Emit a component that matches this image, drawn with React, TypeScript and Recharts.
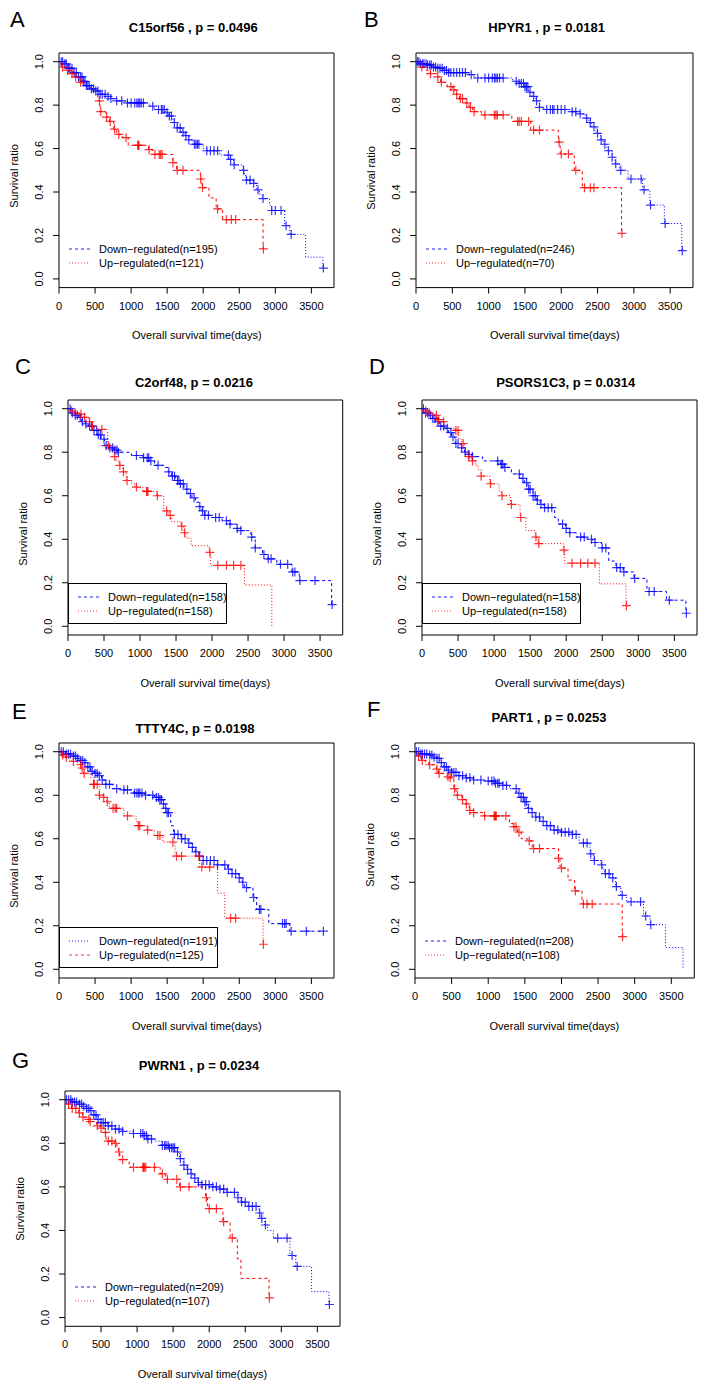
import React from 'react'
import { ComposedChart, Line, Scatter, XAxis, YAxis, ReferenceArea } from 'recharts'

const FONT = '"Liberation Sans", Arial, Helvetica, sans-serif'
const BLUE = '#0000ff'
const RED = '#ff0000'
const LEG_BLUE = '#6a6aff'
const LEG_RED = '#ff7a7a'
const DASH = '3 3'
const DOT = '1 2'

const X_TICKS = [0, 500, 1000, 1500, 2000, 2500, 3000, 3500]
const Y_TICKS = [0, 0.2, 0.4, 0.6, 0.8, 1]
const X_MAX = 3814
const Y_MIN = -0.04
const Y_MAX = 1.04
const X_TITLE = 'Overall survival time(days)'
const Y_TITLE = 'Survival ratio'

const LETTERS = ['A', 'B', 'C', 'D', 'E', 'F', 'G']
const TITLES = [
  'C15orf56 , p = 0.0496',
  'HPYR1 , p = 0.0181',
  'C2orf48, p = 0.0216',
  'PSORS1C3, p = 0.0314',
  'TTTY4C, p = 0.0198',
  'PART1 , p = 0.0253',
  'PWRN1 , p = 0.0234',
]
const N_DOWN = [195, 246, 158, 158, 191, 208, 209]
const N_UP = [121, 70, 158, 158, 125, 108, 107]

// step curves: [day, survival after the drop]; censor marks: day only (sit on the curve)

// A: C15orf56
const aDownSteps = [[60, 0.99], [120, 0.97], [200, 0.95], [260, 0.93], [330, 0.91], [380, 0.89], [440, 0.875], [500, 0.865], [570, 0.85], [650, 0.84], [720, 0.83], [800, 0.82], [950, 0.81], [1250, 0.795], [1320, 0.78], [1480, 0.765], [1520, 0.75], [1580, 0.72], [1640, 0.695], [1700, 0.675], [1750, 0.66], [1800, 0.64], [1860, 0.62], [2000, 0.6], [2050, 0.59], [2230, 0.57], [2370, 0.55], [2420, 0.525], [2550, 0.5], [2570, 0.475], [2600, 0.455], [2700, 0.44], [2740, 0.41], [2780, 0.39], [2820, 0.37], [2920, 0.34], [2950, 0.315], [3130, 0.245], [3200, 0.205], [3420, 0.1], [3660, 0.05]]
const aDownCensor = [30, 50, 80, 100, 130, 150, 180, 210, 240, 270, 300, 320, 340, 360, 380, 400, 420, 450, 480, 510, 540, 570, 600, 640, 680, 720, 800, 870, 950, 1000, 1050, 1080, 1100, 1120, 1140, 1170, 1300, 1380, 1420, 1440, 1460, 1500, 1530, 1560, 1600, 1640, 1680, 1720, 1760, 1800, 1880, 1900, 1920, 1940, 2050, 2100, 2150, 2200, 2350, 2380, 2430, 2560, 2600, 2650, 2700, 2760, 2830, 2950, 3000, 3080, 3150, 3220, 3667]
const aUpSteps = [[40, 0.975], [100, 0.96], [150, 0.945], [200, 0.93], [280, 0.905], [320, 0.89], [450, 0.87], [540, 0.82], [570, 0.77], [650, 0.745], [700, 0.725], [760, 0.69], [800, 0.665], [880, 0.65], [960, 0.615], [1240, 0.595], [1300, 0.573], [1580, 0.535], [1630, 0.5], [1960, 0.46], [1985, 0.42], [2080, 0.373], [2180, 0.322], [2270, 0.273], [2830, 0.138]]
const aUpCensor = [50, 120, 180, 230, 300, 560, 580, 660, 710, 770, 830, 930, 1090, 1100, 1110, 1250, 1330, 1390, 1410, 1430, 1580, 1640, 1720, 1965, 1990, 2200, 2320, 2390, 2450, 2835]

// B: HPYR1
const bDownSteps = [[60, 0.99], [150, 0.985], [220, 0.975], [300, 0.97], [380, 0.96], [450, 0.95], [720, 0.94], [800, 0.925], [1330, 0.91], [1420, 0.9], [1500, 0.885], [1550, 0.86], [1600, 0.84], [1650, 0.82], [1700, 0.79], [1760, 0.78], [2150, 0.77], [2250, 0.76], [2330, 0.74], [2380, 0.72], [2420, 0.7], [2480, 0.67], [2540, 0.64], [2580, 0.62], [2630, 0.59], [2700, 0.56], [2740, 0.53], [2800, 0.5], [2920, 0.46], [3120, 0.41], [3220, 0.34], [3420, 0.255], [3660, 0.13]]
const bDownCensor = [20, 40, 60, 90, 110, 140, 160, 190, 210, 240, 270, 300, 330, 360, 390, 420, 450, 480, 520, 560, 600, 640, 680, 760, 850, 950, 1000, 1050, 1080, 1100, 1120, 1150, 1200, 1380, 1420, 1450, 1480, 1500, 1520, 1540, 1570, 1620, 1660, 1700, 1800, 1850, 1880, 1900, 1950, 2000, 2050, 2150, 2200, 2260, 2350, 2400, 2450, 2500, 2550, 2600, 2650, 2700, 2750, 2820, 2960, 3100, 3140, 3230, 3430, 3667]
const bUpSteps = [[70, 0.975], [140, 0.96], [200, 0.945], [290, 0.93], [340, 0.905], [430, 0.885], [500, 0.87], [550, 0.85], [600, 0.83], [680, 0.81], [730, 0.79], [780, 0.77], [900, 0.755], [1320, 0.725], [1580, 0.685], [1960, 0.63], [1985, 0.575], [2180, 0.5], [2290, 0.42], [2830, 0.21]]
const bUpCensor = [80, 200, 300, 350, 480, 520, 560, 610, 640, 700, 750, 800, 950, 1080, 1100, 1120, 1200, 1400, 1420, 1450, 1550, 1620, 1700, 1970, 2000, 2100, 2200, 2320, 2400, 2450, 2835]

// C: C2orf48
const cDownSteps = [[40, 0.98], [100, 0.97], [150, 0.96], [190, 0.94], [240, 0.93], [290, 0.92], [360, 0.9], [410, 0.88], [460, 0.86], [510, 0.83], [580, 0.82], [640, 0.81], [690, 0.8], [880, 0.785], [1040, 0.775], [1130, 0.76], [1200, 0.74], [1330, 0.73], [1390, 0.71], [1440, 0.69], [1490, 0.67], [1560, 0.655], [1610, 0.63], [1670, 0.61], [1720, 0.59], [1770, 0.57], [1820, 0.55], [1860, 0.53], [1900, 0.51], [1990, 0.5], [2140, 0.485], [2240, 0.47], [2340, 0.45], [2400, 0.44], [2540, 0.41], [2600, 0.36], [2700, 0.33], [2780, 0.31], [2900, 0.285], [3110, 0.25], [3210, 0.21], [3660, 0.1]]
const cDownCensor = [30, 60, 100, 130, 170, 200, 250, 300, 330, 360, 400, 420, 450, 500, 530, 580, 620, 650, 680, 700, 950, 1050, 1100, 1120, 1150, 1250, 1400, 1450, 1480, 1520, 1540, 1560, 1600, 1650, 1700, 1750, 1830, 1870, 1900, 1950, 2050, 2100, 2200, 2250, 2350, 2400, 2550, 2600, 2720, 2780, 2820, 2950, 3050, 3120, 3150, 3220, 3430, 3667]
const cUpSteps = [[30, 0.99], [100, 0.98], [180, 0.975], [230, 0.96], [290, 0.94], [330, 0.92], [400, 0.905], [550, 0.83], [610, 0.8], [640, 0.78], [670, 0.76], [710, 0.74], [760, 0.71], [810, 0.67], [880, 0.655], [930, 0.64], [1040, 0.62], [1230, 0.6], [1330, 0.53], [1390, 0.51], [1440, 0.48], [1570, 0.46], [1610, 0.43], [1640, 0.405], [1710, 0.37], [1960, 0.34], [1980, 0.28], [2450, 0.19], [2830, 0]]
const cUpCensor = [50, 100, 180, 230, 300, 340, 470, 560, 650, 720, 770, 820, 950, 1090, 1100, 1110, 1240, 1370, 1420, 1580, 1620, 1970, 2080, 2200, 2300, 2400]

// D: PSORS1C3
const dDownSteps = [[40, 0.98], [90, 0.97], [150, 0.955], [190, 0.94], [240, 0.92], [320, 0.91], [370, 0.89], [410, 0.87], [460, 0.84], [530, 0.82], [590, 0.8], [640, 0.79], [690, 0.78], [840, 0.76], [1090, 0.745], [1140, 0.73], [1240, 0.7], [1370, 0.68], [1420, 0.66], [1470, 0.63], [1540, 0.6], [1590, 0.58], [1640, 0.56], [1690, 0.545], [1840, 0.5], [1890, 0.47], [1990, 0.45], [2040, 0.43], [2140, 0.41], [2290, 0.4], [2370, 0.385], [2490, 0.36], [2590, 0.3], [2690, 0.27], [2790, 0.25], [2940, 0.22], [3120, 0.16], [3390, 0.12], [3660, 0.06]]
const dDownCensor = [20, 50, 80, 120, 150, 180, 220, 260, 300, 350, 400, 430, 470, 500, 550, 600, 650, 700, 1050, 1100, 1120, 1150, 1350, 1400, 1450, 1480, 1500, 1540, 1570, 1600, 1650, 1700, 1750, 1800, 1950, 2000, 2050, 2200, 2250, 2350, 2400, 2500, 2550, 2700, 2750, 2800, 2950, 3150, 3220, 3430, 3667]
const dUpSteps = [[40, 0.99], [100, 0.98], [170, 0.97], [220, 0.95], [290, 0.94], [320, 0.91], [460, 0.9], [510, 0.86], [550, 0.84], [590, 0.81], [640, 0.78], [690, 0.76], [740, 0.74], [780, 0.72], [820, 0.69], [940, 0.655], [1070, 0.62], [1100, 0.6], [1230, 0.56], [1360, 0.5], [1440, 0.44], [1570, 0.41], [1610, 0.38], [1960, 0.35], [1980, 0.29], [2460, 0.195], [2830, 0.095]]
const dUpCensor = [50, 100, 200, 230, 300, 470, 500, 570, 650, 700, 820, 950, 1110, 1240, 1370, 1580, 1620, 1970, 2080, 2200, 2300, 2400, 2835]

// E: TTTY4C
const eDownSteps = [[90, 0.99], [190, 0.98], [240, 0.97], [290, 0.96], [340, 0.95], [390, 0.93], [440, 0.91], [490, 0.9], [540, 0.89], [590, 0.87], [640, 0.85], [740, 0.83], [890, 0.825], [1040, 0.81], [1190, 0.8], [1320, 0.79], [1390, 0.78], [1440, 0.76], [1470, 0.74], [1500, 0.72], [1550, 0.66], [1590, 0.62], [1690, 0.6], [1790, 0.58], [1840, 0.56], [1890, 0.54], [1940, 0.52], [1990, 0.5], [2190, 0.48], [2340, 0.46], [2390, 0.44], [2490, 0.42], [2540, 0.4], [2570, 0.375], [2690, 0.33], [2740, 0.275], [2910, 0.21], [3200, 0.175]]
const eDownCensor = [30, 60, 100, 130, 160, 200, 230, 260, 300, 330, 360, 400, 430, 460, 500, 530, 560, 600, 650, 700, 800, 900, 950, 1050, 1080, 1100, 1120, 1150, 1200, 1300, 1350, 1380, 1400, 1420, 1450, 1480, 1500, 1520, 1600, 1650, 1700, 1750, 1800, 1850, 1900, 1950, 2000, 2050, 2100, 2150, 2200, 2300, 2350, 2400, 2450, 2500, 2550, 2600, 2700, 2780, 2800, 3100, 3130, 3150, 3220, 3430, 3667]
const eUpSteps = [[40, 0.985], [90, 0.975], [140, 0.96], [190, 0.955], [290, 0.94], [310, 0.925], [340, 0.9], [440, 0.88], [480, 0.85], [560, 0.8], [610, 0.79], [660, 0.77], [700, 0.74], [900, 0.705], [1070, 0.68], [1100, 0.66], [1220, 0.64], [1320, 0.615], [1440, 0.585], [1610, 0.52], [1950, 0.47], [2200, 0.35], [2300, 0.235], [2830, 0.115]]
const eUpCensor = [50, 100, 200, 300, 320, 350, 480, 490, 530, 560, 620, 670, 750, 780, 800, 950, 1100, 1120, 1230, 1370, 1400, 1580, 1630, 1700, 1940, 1980, 2090, 2380, 2450, 2835]

// F: PART1
const fDownSteps = [[80, 0.99], [180, 0.985], [240, 0.975], [290, 0.97], [340, 0.95], [390, 0.93], [440, 0.915], [490, 0.905], [590, 0.89], [690, 0.88], [790, 0.87], [940, 0.865], [1090, 0.855], [1190, 0.845], [1290, 0.83], [1390, 0.81], [1440, 0.79], [1490, 0.77], [1540, 0.74], [1590, 0.72], [1640, 0.7], [1710, 0.68], [1790, 0.66], [1890, 0.64], [1990, 0.63], [2140, 0.62], [2240, 0.58], [2390, 0.53], [2440, 0.5], [2540, 0.48], [2560, 0.46], [2590, 0.44], [2670, 0.42], [2740, 0.38], [2810, 0.34], [2890, 0.31], [3120, 0.245], [3210, 0.205], [3420, 0.1], [3660, 0]]
const fDownCensor = [20, 50, 80, 100, 130, 160, 200, 230, 260, 300, 330, 360, 400, 430, 460, 500, 530, 560, 600, 650, 700, 750, 800, 900, 1000, 1050, 1080, 1100, 1130, 1150, 1200, 1250, 1380, 1420, 1450, 1480, 1500, 1520, 1550, 1600, 1650, 1700, 1750, 1800, 1850, 1900, 1950, 2000, 2050, 2100, 2150, 2200, 2300, 2350, 2400, 2450, 2550, 2600, 2650, 2700, 2750, 2830, 2950, 3080, 3150, 3220]
const fUpSteps = [[40, 0.98], [90, 0.96], [140, 0.95], [190, 0.94], [290, 0.92], [320, 0.9], [440, 0.885], [470, 0.88], [530, 0.83], [560, 0.8], [640, 0.78], [690, 0.76], [740, 0.73], [790, 0.72], [940, 0.705], [1290, 0.67], [1340, 0.655], [1400, 0.63], [1450, 0.6], [1540, 0.59], [1600, 0.555], [1960, 0.51], [1980, 0.465], [2090, 0.41], [2180, 0.36], [2280, 0.3], [2830, 0.15]]
const fUpCensor = [50, 100, 200, 300, 330, 450, 480, 540, 580, 650, 700, 750, 800, 950, 1080, 1090, 1100, 1110, 1240, 1350, 1380, 1420, 1560, 1620, 1700, 1960, 2000, 2190, 2300, 2350, 2420, 2835]

// G: PWRN1
const gDownSteps = [[90, 0.99], [190, 0.98], [240, 0.97], [290, 0.96], [340, 0.95], [390, 0.93], [440, 0.91], [490, 0.895], [590, 0.88], [690, 0.865], [790, 0.855], [940, 0.845], [1090, 0.835], [1140, 0.82], [1240, 0.81], [1340, 0.79], [1440, 0.78], [1540, 0.76], [1590, 0.73], [1640, 0.7], [1690, 0.68], [1740, 0.66], [1790, 0.64], [1840, 0.62], [1890, 0.61], [2040, 0.6], [2140, 0.59], [2240, 0.575], [2390, 0.55], [2440, 0.53], [2540, 0.51], [2690, 0.48], [2720, 0.455], [2770, 0.425], [2810, 0.4], [2890, 0.365], [3120, 0.285], [3200, 0.235], [3420, 0.12], [3660, 0.06]]
const gDownCensor = [20, 50, 80, 100, 130, 160, 200, 230, 260, 300, 330, 360, 400, 430, 460, 500, 530, 560, 600, 650, 700, 750, 800, 950, 1050, 1080, 1100, 1130, 1150, 1200, 1350, 1380, 1400, 1430, 1450, 1480, 1500, 1520, 1560, 1600, 1650, 1700, 1750, 1800, 1850, 1900, 1950, 2000, 2050, 2100, 2150, 2200, 2250, 2350, 2400, 2450, 2500, 2550, 2600, 2650, 2700, 2730, 2780, 2950, 3080, 3150, 3220, 3667]
const gUpSteps = [[40, 0.98], [90, 0.96], [190, 0.94], [240, 0.92], [290, 0.91], [340, 0.9], [440, 0.88], [490, 0.87], [540, 0.85], [570, 0.81], [690, 0.8], [720, 0.78], [740, 0.76], [760, 0.725], [890, 0.69], [1320, 0.66], [1390, 0.635], [1590, 0.6], [1950, 0.55], [1975, 0.5], [2190, 0.44], [2290, 0.365], [2390, 0.27], [2440, 0.18], [2830, 0.09]]
const gUpCensor = [50, 100, 150, 200, 250, 330, 350, 450, 500, 560, 600, 650, 700, 750, 800, 950, 1080, 1090, 1100, 1120, 1240, 1350, 1420, 1550, 1600, 1720, 1960, 2000, 2100, 2200, 2320, 2835]

const DOWN_STEPS = [aDownSteps, bDownSteps, cDownSteps, dDownSteps, eDownSteps, fDownSteps, gDownSteps]
const DOWN_CENSOR = [aDownCensor, bDownCensor, cDownCensor, dDownCensor, eDownCensor, fDownCensor, gDownCensor]
const UP_STEPS = [aUpSteps, bUpSteps, cUpSteps, dUpSteps, eUpSteps, fUpSteps, gUpSteps]
const UP_CENSOR = [aUpCensor, bUpCensor, cUpCensor, dUpCensor, eUpCensor, fUpCensor, gUpCensor]

// layout of each panel (page pixels) and line styles, kept apart from the data
const LAYOUT = [
  { box: [59.3, 52.7, 275, 234.6], letter: [10, 20], title: [193.3, 26.7], yTitle: 123, curve: [DOT, DASH], legend: [DASH, DOT], boxed: false },
  { box: [416.3, 52.7, 277, 234.6], letter: [364, 20], title: [546.7, 26.7], yTitle: 125, curve: [DOT, DASH], legend: [DASH, DOT], boxed: false },
  { box: [68, 400, 274.7, 235], letter: [15, 366.7], title: [194, 381.7], yTitle: 134, curve: [DASH, DOT], legend: [DASH, DOT], boxed: true },
  { box: [422.3, 400, 275, 235], letter: [369, 366.7], title: [565.7, 381.7], yTitle: 134, curve: [DASH, DOT], legend: [DASH, DOT], boxed: true },
  { box: [59.3, 743.3, 275, 235], letter: [12, 711.7], title: [195, 728.3], yTitle: 133, curve: [DASH, DOT], legend: [DOT, DASH], boxed: true },
  { box: [414.7, 743.3, 279.3, 235], letter: [367, 710], title: [549, 716.7], yTitle: 112, curve: [DOT, DASH], legend: [DASH, DOT], boxed: false },
  { box: [65, 1090.7, 275, 235.3], letter: [12, 1060.7], title: [199, 1065], yTitle: 118, curve: [DOT, DASH], legend: [DASH, DOT], boxed: false },
]

const ML = 60
const MT = 10
const MR = 10
const MB = 60

function survAt(steps: number[][], t: number) {
  let s = 1
  for (const [d, v] of steps) {
    if (d <= t) s = v
    else break
  }
  return s
}

function curveData(steps: number[][], censor: number[]) {
  const pts = [{ t: 0, s: 1 }, ...steps.map(([t, s]) => ({ t, s }))]
  const end = Math.max(pts[pts.length - 1].t, ...censor)
  if (end > pts[pts.length - 1].t) pts.push({ t: end, s: pts[pts.length - 1].s })
  return pts
}

function censorData(steps: number[][], censor: number[]) {
  return censor.map((t) => ({ t, s: survAt(steps, t) }))
}

function plusShape(color: string) {
  return (props: any) => {
    const { cx, cy } = props
    if (cx == null || cy == null) return <g />
    return (
      <path
        d={`M${cx - 4.5},${cy}H${cx + 4.5}M${cx},${cy - 4.5}V${cy + 4.5}`}
        stroke={color}
        strokeWidth={1.2}
        strokeOpacity={0.8}
        fill="none"
      />
    )
  }
}

function KMLegend({ i }: { i: number }) {
  const lay = LAYOUT[i]
  const [bx, by] = lay.box
  const left = Math.round(bx)
  const top = 2 * Math.round((by + 180) / 2)
  return (
    <svg
      width={170}
      height={46}
      style={{ position: 'absolute', left, top, overflow: 'visible' }}
    >
      {lay.boxed && <rect x={0.5} y={3.5} width={158} height={40} fill="none" stroke="#000" strokeWidth={1} />}
      <path d="M10,17H31" fill="none" stroke={LEG_BLUE} strokeWidth={1.3} strokeDasharray={lay.legend[0]} />
      <text x={40} y={17} dominantBaseline="central" fontSize={11} fontFamily={FONT} fill="#000">
        {`Down\u2212regulated(n=${N_DOWN[i]})`}
      </text>
      <path d="M10,31H31" fill="none" stroke={LEG_RED} strokeWidth={1.3} strokeDasharray={lay.legend[1]} />
      <text x={40} y={31} dominantBaseline="central" fontSize={11} fontFamily={FONT} fill="#000">
        {`Up\u2212regulated(n=${N_UP[i]})`}
      </text>
    </svg>
  )
}

function Panel({ i }: { i: number }) {
  const lay = LAYOUT[i]
  const [bx, by, bw, bh] = lay.box
  const w = bw + ML + MR
  const h = bh + MT + MB
  const bottom = MT + bh
  const downLine = curveData(DOWN_STEPS[i], DOWN_CENSOR[i])
  const upLine = curveData(UP_STEPS[i], UP_CENSOR[i])
  const downMarks = censorData(DOWN_STEPS[i], DOWN_CENSOR[i])
  const upMarks = censorData(UP_STEPS[i], UP_CENSOR[i])

  return (
    <>
      <div
        style={{
          position: 'absolute',
          left: lay.letter[0],
          top: lay.letter[1],
          transform: 'translateY(-50%)',
          fontSize: 22,
          lineHeight: 1,
        }}
      >
        {LETTERS[i]}
      </div>
      <div
        style={{
          position: 'absolute',
          left: lay.title[0],
          top: lay.title[1],
          transform: 'translate(-50%, -50%)',
          fontSize: 13,
          fontWeight: 'bold',
          whiteSpace: 'nowrap',
          lineHeight: 1,
        }}
      >
        {TITLES[i]}
      </div>
      <div
        style={{
          position: 'absolute',
          left: bx - 45,
          top: by + lay.yTitle,
          transform: 'translate(-50%, -50%) rotate(-90deg)',
          fontSize: 11,
          whiteSpace: 'nowrap',
          lineHeight: 1,
        }}
      >
        {Y_TITLE}
      </div>
      <div
        style={{
          position: 'absolute',
          left: bx + bw / 2,
          top: by + bh + 48,
          transform: 'translate(-50%, -50%)',
          fontSize: 11,
          whiteSpace: 'nowrap',
          lineHeight: 1,
        }}
      >
        {X_TITLE}
      </div>
      <div style={{ position: 'absolute', left: bx - ML, top: by - MT, width: w, height: h }}>
        <ComposedChart width={w} height={h} margin={{ top: MT, right: MR, bottom: 0, left: 0 }}>
          <XAxis
            type="number"
            dataKey="t"
            domain={[0, X_MAX]}
            ticks={X_TICKS}
            interval={0}
            height={MB}
            tickSize={6}
            axisLine={false}
            tickLine={{ stroke: '#000' }}
            allowDataOverflow
            tick={(props: any) => (
              <text
                x={props.x}
                y={bottom + 18}
                textAnchor="middle"
                dominantBaseline="central"
                fontSize={11}
                fontFamily={FONT}
                fill="#000"
              >
                {props.payload.value}
              </text>
            )}
          />
          <YAxis
            type="number"
            domain={[Y_MIN, Y_MAX]}
            ticks={Y_TICKS}
            interval={0}
            width={ML}
            tickSize={6}
            axisLine={false}
            tickLine={{ stroke: '#000' }}
            allowDataOverflow
            tick={(props: any) => (
              <text
                transform={`translate(${ML - 20},${props.y}) rotate(-90)`}
                textAnchor="middle"
                dominantBaseline="central"
                fontSize={11}
                fontFamily={FONT}
                fill="#000"
              >
                {Number(props.payload.value).toFixed(1)}
              </text>
            )}
          />
          <Line
            data={downLine}
            dataKey="s"
            type="stepAfter"
            stroke={BLUE}
            strokeWidth={1}
            strokeDasharray={lay.curve[0]}
            dot={false}
            activeDot={false}
            isAnimationActive={false}
          />
          <Line
            data={upLine}
            dataKey="s"
            type="stepAfter"
            stroke={RED}
            strokeWidth={1}
            strokeDasharray={lay.curve[1]}
            dot={false}
            activeDot={false}
            isAnimationActive={false}
          />
          <Scatter data={downMarks} dataKey="s" shape={plusShape(BLUE)} isAnimationActive={false} />
          <Scatter data={upMarks} dataKey="s" shape={plusShape(RED)} isAnimationActive={false} />
          <ReferenceArea
            x1={0}
            x2={X_MAX}
            y1={Y_MIN}
            y2={Y_MAX}
            fill="none"
            fillOpacity={0}
            stroke="#000"
            strokeWidth={1}
            strokeOpacity={1}
          />
        </ComposedChart>
      </div>
      <KMLegend i={i} />
    </>
  )
}

export default function App() {
  return (
    <div
      style={{
        position: 'absolute',
        left: 0,
        top: 0,
        width: 708,
        height: 1390,
        background: '#fff',
        fontFamily: FONT,
        color: '#000',
        overflow: 'hidden',
      }}
    >
      {LETTERS.map((_, i) => (
        <Panel key={i} i={i} />
      ))}
    </div>
  )
}
